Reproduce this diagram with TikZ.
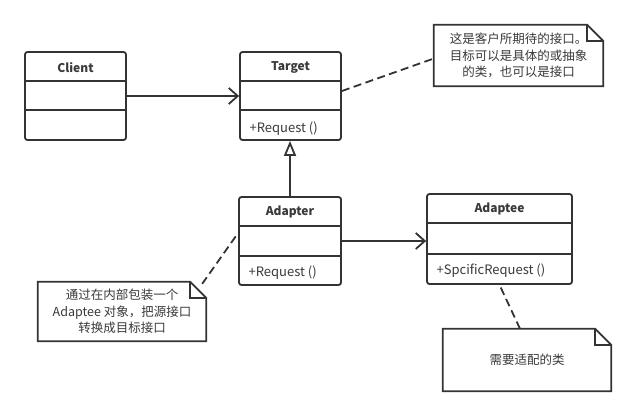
\documentclass[tikz,border=0pt]{standalone}
\usepackage{fontspec}
\setmainfont{Noto Sans CJK SC}
\usetikzlibrary{calc,arrows.meta}
\definecolor{ink}{HTML}{333333}
\definecolor{txt}{HTML}{3A3A3A}
\tikzset{
  classbox/.style={draw=ink, line width=1.8pt, rounded corners=2.5pt, fill=white},
  divider/.style={draw=ink, line width=1.8pt},
  title/.style={font=\fontsize{12}{13}\selectfont\bfseries, text=txt},
  method/.style={font=\fontsize{13}{14}\selectfont, text=txt, anchor=west},
  notebody/.style={draw=none, align=center, font=\fontsize{12.5}{16.5}\selectfont, text=txt},
  noteline/.style={draw=ink, line width=1.8pt, line join=miter},
  assoc/.style={draw=ink, line width=1.8pt, -{Straight Barb[length=9pt,width=16pt,line width=1.8pt]}},
  inherit/.style={draw=ink, line width=1.8pt, -{Triangle[open,length=15pt,width=12pt,line width=1.8pt]}},
  dashline/.style={draw=ink, line width=1.8pt, dash pattern=on 8pt off 4.5pt}
}
\begin{document}
\begin{tikzpicture}[x=1pt,y=-1pt]
\useasboundingbox[fill=white] (0,0) rectangle (636,416);

% class boxes
\node[classbox, minimum width=101pt, minimum height=88pt, inner sep=0pt] (client) at (75.5,96) {};
\node[classbox, minimum width=101pt, minimum height=88pt, inner sep=0pt] (target) at (290.5,96) {};
\node[classbox, minimum width=102pt, minimum height=88pt, inner sep=0pt] (adapter) at (290,241) {};
\node[classbox, minimum width=145pt, minimum height=90pt, inner sep=0pt] (adaptee) at (499.5,239) {};

% dividers
\foreach \b/\a/\c in {client/30/59, target/30/59, adapter/30/60, adaptee/30/61}{
  \draw[divider] ($(\b.north west)+(0,\a)$) -- ($(\b.north east)+(0,\a)$);
  \draw[divider] ($(\b.north west)+(0,\c)$) -- ($(\b.north east)+(0,\c)$);
}

% titles
\node[title] (clientT) at ($(client.north)+(0,16)$) {Client};
\node[title] (targetT) at ($(target.north)+(0,16)$) {Target};
\node[title] (adapterT) at ($(adapter.north)+(0,16)$) {Adapter};
\node[title] (adapteeT) at ($(adaptee.north)+(0,16)$) {Adaptee};

% methods
\node[method] (targetM) at ($(target.south west)+(7,-12)$) {+Request ()};
\node[method] (adapterM) at ($(adapter.south west)+(7,-13)$) {+Request ()};
\node[method] (adapteeM) at ($(adaptee.south west)+(7,-14)$) {+SpcificRequest ()};

% notes
\node[notebody, minimum width=169pt, minimum height=61pt] (n1) at (518.5,55.5)
  {这是客户所期待的接口。\\目标可以是具体的或抽象\\的类，也可以是接口};
\node[notebody, minimum width=168pt, minimum height=59pt] (n2) at (122,311.5)
  {通过在内部包装一个\\Adaptee 对象，把源接口\\转换成目标接口};
\node[notebody, minimum width=168pt, minimum height=62pt] (n3) at (527,360)
  {需要适配的类};

\foreach \n in {n1,n2,n3}{
  \draw[noteline] (\n.north west) -- ($(\n.north east)+(-16,0)$) -- ($(\n.north east)+(0,16)$)
    -- (\n.south east) -- (\n.south west) -- cycle;
  \draw[noteline] ($(\n.north east)+(-16,0)$) -- ($(\n.north east)+(-16,16)$) -- ($(\n.north east)+(0,16)$);
}

% connectors
\draw[assoc] (client.east) -- (target.west);
\draw[inherit] (adapter.north) -- (adapter.north |- target.south);
\draw[assoc] (adapter.east) -- (adapter.east -| adaptee.west);
\draw[dashline] ([yshift=5pt]target.east) -- ([yshift=-3pt]n1.west);
\draw[dashline] ($(n2.north east)+(-4,2)$) -- ([yshift=8pt]adapter.west);
\draw[dashline] ($(n3.north)+(-7,0)$) -- (adaptee.south);
\end{tikzpicture}
\end{document}
